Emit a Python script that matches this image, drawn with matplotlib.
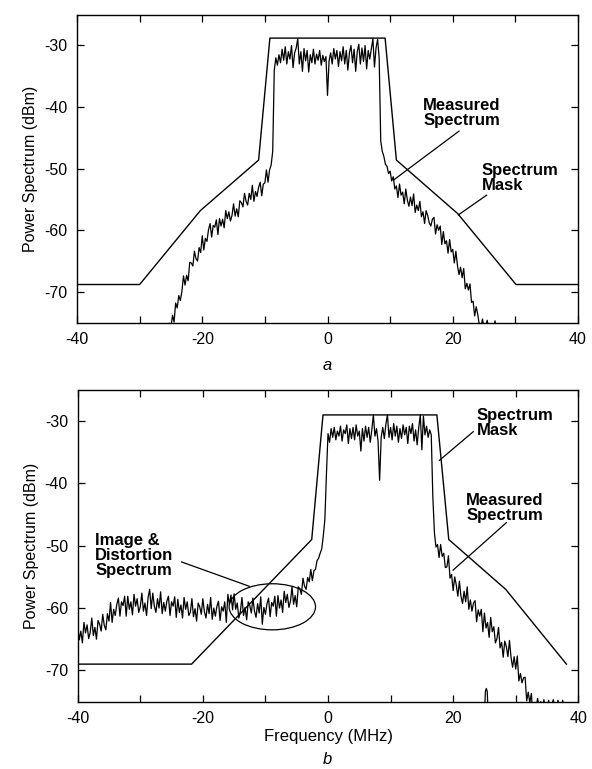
import numpy as np
import matplotlib
matplotlib.use("Agg")
import matplotlib.pyplot as plt
from matplotlib.patches import Ellipse

plt.rcParams['font.family'] = ['Liberation Sans', 'DejaVu Sans']
plt.rcParams['axes.unicode_minus'] = False

# ---- panel a: spectrum mask corners (MHz, dBm)
mask_a_f = [-40, -30, -20.3, -11.0, -9.2, 9.2, 11.0, 20.8, 30.1, 40]
mask_a_p = [-68.8, -68.8, -56.8, -48.6, -28.8, -28.8, -48.6, -57.3, -68.8, -68.8]

# ---- panel a: measured spectrum, 0.25 MHz bins starting at -25.25 MHz
meas_a_start = -25.25
meas_a = [
    -75.1, -75.7, -73.8, -74.9, -71.8, -72.6, -70.6, -71.4,
    -69.9, -67.4, -68.9, -67.3, -68.2, -65.2, -65.3, -65.8,
    -63.4, -64.6, -65.0, -62.8, -63.6, -60.9, -63.2, -61.3,
    -61.8, -59.9, -58.9, -61.1, -59.2, -59.5, -58.3, -60.7,
    -58.1, -59.3, -58.2, -59.6, -56.8, -58.1, -57.0, -58.5,
    -57.6, -55.7, -57.7, -56.5, -57.8, -55.2, -55.5, -56.2,
    -54.0, -55.3, -55.9, -54.0, -55.0, -52.7, -55.3, -53.7,
    -54.5, -53.0, -52.2, -54.4, -52.5, -52.3, -50.2, -52.2,
    -50.2, -49.4, -47.2, -34.0,
    # passband
    -32.0, -33.2, -31.5, -32.8, -30.6, -32.4, -30.2, -33.0,
    -31.0, -32.2, -30.0, -33.6, -31.2, -30.4, -28.9, -33.0,
    -31.0, -34.2, -30.5, -32.5, -30.8, -34.3, -31.5, -32.8,
    -30.6, -33.0, -31.4, -32.4, -30.8, -33.2, -31.6, -32.6,
    -31.8, -38.1, -32.5, -31.2, -33.0, -30.5, -32.2, -30.8,
    -33.4, -31.0, -32.5, -30.2, -33.0, -30.8, -34.0, -31.2,
    -30.0, -32.8, -30.6, -34.2, -31.0, -29.8, -33.0, -30.4,
    -32.6, -30.0, -33.8, -30.8, -32.2, -30.5, -28.9, -33.5,
    -30.4, -29.0, -32.0,
    # upper skirt
    -45.5, -47.2, -48.0, -49.3, -49.6, -50.8, -50.4, -52.0,
    -51.3, -53.3, -52.8, -54.7, -52.5, -54.3, -53.8, -55.7,
    -53.3, -55.1, -56.1, -54.6, -56.0, -54.1, -57.1, -55.9,
    -56.8, -55.3, -57.8, -57.0, -58.9, -56.8, -57.6, -58.8,
    -59.3, -58.2, -57.9, -60.6, -59.1, -60.0, -59.3, -62.3,
    -60.2, -62.2, -61.7, -63.7, -61.5, -63.5, -63.1, -65.3,
    -63.4, -65.7, -67.2, -66.0, -67.7, -66.2, -69.5, -68.6,
    -69.7, -68.7, -71.7, -71.5, -73.9, -72.4, -73.7, -75.4,
    -75.8, -74.4, -76.0, -75.5, -74.6, -76.0, -75.2, -76.0,
    -76.0, -74.7, -76.0,
]

# ---- panel b: spectrum mask corners
mask_b_f = [-40, -21.8, -2.6, -0.8, 17.4, 19.3, 28.4, 38.1]
mask_b_p = [-69.0, -69.0, -49.0, -29.0, -29.0, -49.0, -57.0, -69.0]

# ---- panel b: measured spectrum, 0.25 MHz bins starting at -40 MHz
meas_b_start = -40.0
meas_b = [
    -62.8, -65.1, -63.7, -65.6, -62.3, -64.0, -62.7, -64.9,
    -63.9, -61.6, -64.4, -63.1, -65.0, -62.0, -62.6, -63.7,
    -61.0, -62.8, -63.5, -60.9, -62.1, -59.1, -62.3, -60.2,
    -61.2, -59.4, -58.4, -61.3, -59.0, -59.6, -58.1, -61.3,
    -58.1, -60.2, -59.0, -61.1, -57.8, -59.7, -58.5, -60.7,
    -59.8, -57.6, -60.5, -59.2, -61.2, -58.3, -57.0, -60.1,
    -57.6, -59.7, -60.7, -58.5, -60.0, -57.4, -60.9, -59.1,
    -60.5, -58.9, -58.1, -61.2, -59.0, -59.7, -58.2, -61.5,
    -58.6, -60.7, -59.5, -61.6, -58.3, -60.2, -59.0, -61.2,
    -60.7, -58.5, -61.4, -60.1, -62.1, -59.2, -59.8, -61.0,
    -58.5, -60.6, -61.6, -59.4, -60.9, -58.3, -61.8, -60.0,
    -61.3, -59.7, -58.9, -62.0, -59.8, -60.5, -59.0, -62.3,
    -57.8, -59.4, -57.9, -60.3, -57.7, -60.2, -59.2, -61.6,
    -60.5, -58.3, -61.2, -59.9, -61.9, -59.0, -59.6, -60.8,
    -58.4, -60.5, -61.5, -59.3, -60.8, -58.2, -62.6, -59.9,
    -61.0, -59.3, -58.4, -61.4, -59.1, -59.7, -58.1, -61.3,
    -58.0, -60.0, -58.7, -60.7, -57.3, -59.1, -57.8, -59.9,
    -58.9, -56.6, -59.4, -58.0, -59.8, -56.6, -56.9, -57.8,
    -55.2, -56.5, -57.0, -55.1, -55.8, -53.8, -55.6, -54.0,
    -53.8, -52.4, -52.0, -51.2, -50.5, -48.4, -45.8, -38.5,
    # passband
    -32.0, -33.4, -31.2, -32.6, -31.0, -33.0, -31.6, -32.4,
    -30.8, -33.2, -31.4, -32.0, -30.6, -33.6, -31.2, -32.8,
    -31.0, -33.0, -30.6, -32.4, -31.6, -34.8, -31.2, -33.2,
    -30.8, -32.6, -31.0, -33.4, -31.4, -29.0, -32.4, -31.2,
    -33.2, -39.5, -32.6, -31.0, -32.8, -30.5, -29.0, -32.6,
    -31.0, -33.0, -30.4, -32.4, -30.8, -33.4, -31.2, -32.8,
    -30.6, -32.2, -31.0, -33.6, -30.8, -32.0, -30.4, -33.2,
    -31.4, -33.8, -31.0, -29.0, -34.6, -29.2, -32.2, -30.8,
    -32.6, -31.4, -32.2,
    # upper skirt
    -42.0,
    -47.8, -50.2, -49.8, -51.9, -49.8, -51.7, -51.2, -53.5,
    -53.4, -51.6, -55.2, -54.6, -57.2, -55.0, -56.3, -58.1,
    -55.7, -58.1, -59.3, -57.3, -59.0, -56.6, -60.2, -58.7,
    -60.5, -59.2, -58.8, -62.2, -60.3, -61.3, -60.2, -63.8,
    -60.8, -63.2, -62.3, -64.7, -61.5, -63.8, -63.0, -65.6,
    -64.9, -63.1, -66.4, -65.5, -67.9, -65.3, -66.2, -67.8,
    -65.2, -67.9, -69.5, -67.8, -69.8, -67.7, -71.7, -70.5,
    -72.0, -71.2, -71.1, -74.9, -73.5, -75.2, -73.7, -77.5,
    -75.2, -76.0, -74.5, -76.0, -75.0, -76.0, -74.7, -76.0,
    -76.0, -74.8, -76.0, -75.6, -74.7, -76.0, -76.0, -74.8,
    -76.0, -76.0, -74.8, -76.0,
]

# small isolated bump near 25 MHz in panel b
bump_f = [25.05, 25.15, 25.3, 25.45, 25.55]
bump_p = [-76.0, -73.4, -72.9, -73.4, -76.0]

bin_w = 0.25
f_a = meas_a_start + bin_w * np.arange(len(meas_a))
f_b = meas_b_start + bin_w * np.arange(len(meas_b))

fig = plt.figure(figsize=(5.92, 7.69), dpi=100)
W, H = 592.0, 769.0
ax1 = fig.add_axes([77 / W, (H - 322.7) / H, 501 / W, 308 / H])
ax2 = fig.add_axes([77.7 / W, (H - 701.5) / H, 500.6 / W, 311.5 / H])

for ax in (ax1, ax2):
    ax.set_xlim(-40, 40)
    ax.set_ylim(-75, -25)
    ax.set_xticks([-40, -20, 0, 20, 40])
    ax.set_xticks([-30, -10, 10, 30], minor=True)
    ax.set_yticks([-70, -60, -50, -40, -30])
    ax.tick_params(which='both', direction='in', top=True, right=True,
                   length=5, width=0.9, labelsize=11.5, pad=7)
    ax.set_ylabel('Power Spectrum (dBm)', fontsize=11.5, labelpad=4)
    for s in ax.spines.values():
        s.set_linewidth(1.0)

# panel a
ax1.plot(mask_a_f, mask_a_p, color='k', lw=1.0)
ax1.plot(f_a, meas_a, color='k', lw=0.9)
ax1.text(15.3, -38.6, 'Measured\nSpectrum', fontsize=12, fontweight='bold',
         ha='left', va='top', linespacing=1.0)
ax1.plot([21.0, 10.6], [-43.9, -51.8], color='k', lw=0.9)
ax1.text(24.6, -49.0, 'Spectrum\nMask', fontsize=12, fontweight='bold',
         ha='left', va='top', linespacing=1.0)
ax1.plot([25.4, 20.9], [-54.3, -57.5], color='k', lw=0.9)

# panel b
ax2.plot(mask_b_f, mask_b_p, color='k', lw=1.0)
ax2.plot(f_b, meas_b, color='k', lw=0.9)
ax2.plot(bump_f, bump_p, color='k', lw=0.9)
ax2.text(23.8, -27.9, 'Spectrum\nMask', fontsize=12, fontweight='bold',
         ha='left', va='top', linespacing=1.0)
ax2.plot([23.2, 17.8], [-31.7, -36.3], color='k', lw=0.9)
ax2.text(22.1, -41.5, 'Measured\nSpectrum', fontsize=12, fontweight='bold',
         ha='left', va='top', linespacing=1.0)
ax2.plot([28.5, 20.0], [-46.3, -53.9], color='k', lw=0.9)
ax2.text(-37.2, -48.0, 'Image &\nDistortion\nSpectrum', fontsize=12,
         fontweight='bold', ha='left', va='top', linespacing=1.0)
ax2.plot([-23.4, -12.6], [-52.6, -56.5], color='k', lw=0.9)
ax2.add_patch(Ellipse((-8.9, -59.8), 13.8, 7.4, fill=False, color='k', lw=0.9))
ax2.set_xlabel('Frequency (MHz)', fontsize=12, labelpad=2)

fig.text(327.5 / W, 1 - 366 / H, 'a', fontsize=12, style='italic',
         ha='center', va='center')
fig.text(327.5 / W, 1 - 759 / H, 'b', fontsize=12, style='italic',
         ha='center', va='center')

fig.savefig('out.png', dpi=100)
